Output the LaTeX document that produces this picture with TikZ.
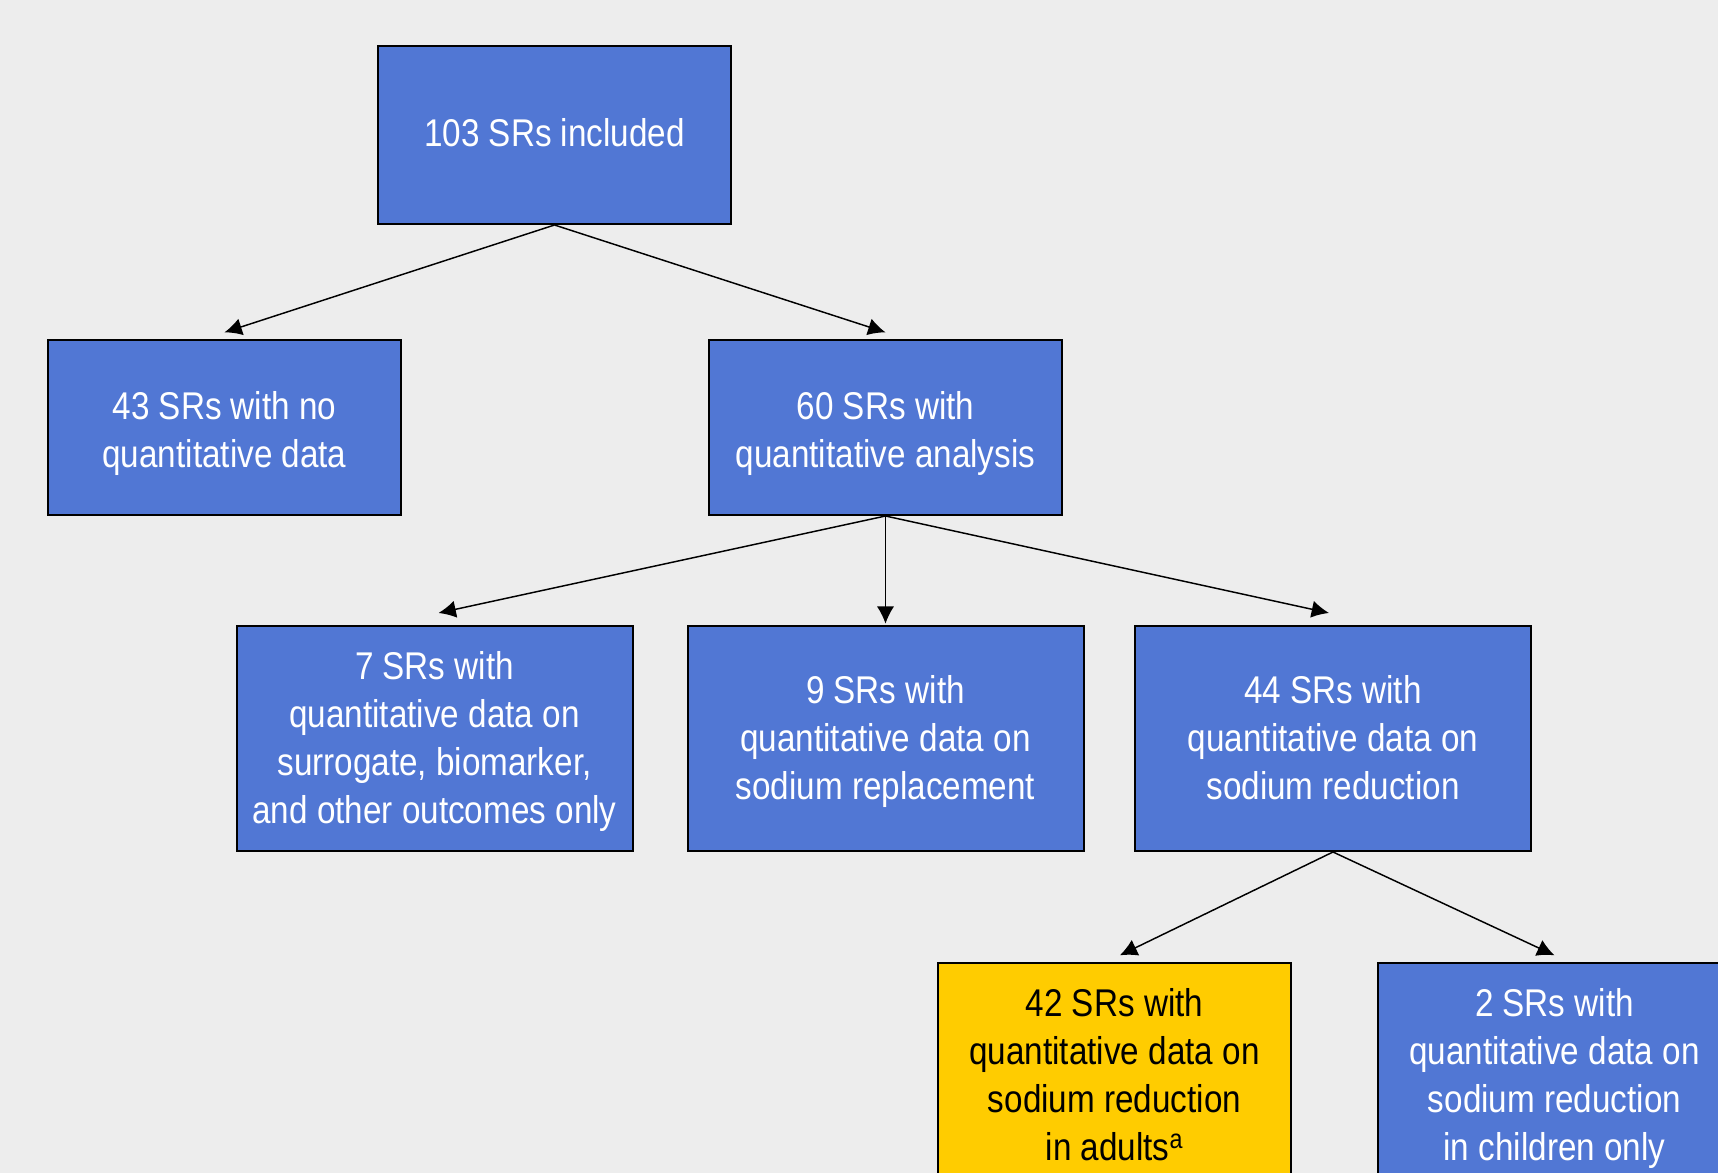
\documentclass[tikz,border=0pt]{standalone}
\usepackage{fontspec}
\setmainfont[FakeStretch=0.86]{Liberation Sans}
\usepackage{tikz}
\usetikzlibrary{arrows.meta}
\definecolor{bgcol}{HTML}{EDEDED}
\definecolor{boxblue}{HTML}{5177D4}
\definecolor{boxyellow}{HTML}{FFCC00}
% lines of a box, lowered a little inside it
\newcommand{\srtext}[2][2.5pt]{\raisebox{-#1}[\height][\depth]{\begin{tabular}{@{}c@{}}#2\end{tabular}}}
\tikzset{
	>={Latex[length=13pt,width=13pt]},   % filled arrow tips
	srbox/.style={draw=black, line width=1.5pt, fill=boxblue, text=white,
		inner sep=0pt, font=\fontsize{29}{36}\selectfont},
	keybox/.style={srbox, fill=boxyellow, text=black},
	arr/.style={->, line width=1.1pt}
}

\begin{document}
\begin{tikzpicture}[x=0.75pt,y=0.75pt]
		% page and background
		\clip (0,0) rectangle (1718,-1173);
		\fill[bgcol] (0,0) rectangle (1718,-1173);
		
		% first level
		\node[srbox, minimum width=353*0.75pt, minimum height=178*0.75pt] (all) at (554.5,-135)
		{\srtext[1.5pt]{103 SRs included}};
		
		% second level
		\node[srbox, minimum width=353*0.75pt, minimum height=175*0.75pt] (noquant) at (224.5,-427.5)
		{\srtext[4.5pt]{43 SRs with no\\quantitative data}};
		\node[srbox, minimum width=353*0.75pt, minimum height=175*0.75pt] (quant) at (885.5,-427.5)
		{\srtext[4.5pt]{60 SRs with\\quantitative analysis}};
		
		% third level
		\node[srbox, minimum width=396*0.75pt, minimum height=225*0.75pt] (surr) at (434.5,-738.5)
		{\srtext{7 SRs with\\quantitative data on\\surrogate, biomarker,\\and other outcomes only}};
		\node[srbox, minimum width=396*0.75pt, minimum height=225*0.75pt] (repl) at (885.5,-738.5)
		{\srtext{9 SRs with\\quantitative data on\\sodium replacement}};
		\node[srbox, minimum width=396*0.75pt, minimum height=225*0.75pt] (red) at (1333,-738.5)
		{\srtext{44 SRs with\\quantitative data on\\sodium reduction}};
		
		% fourth level (runs off the page)
		\node[keybox, minimum width=353*0.75pt, minimum height=225*0.75pt] (adults) at (1114.5,-1075.5)
		{\srtext{42 SRs with\\quantitative data on\\sodium reduction\\in adults\textsuperscript{a}}};
		\node[srbox, minimum width=353*0.75pt, minimum height=225*0.75pt] (children) at (1554.5,-1075.5)
		{\srtext{2 SRs with\\quantitative data on\\sodium reduction\\in children only}};
		
		% connectors
		\draw[arr] (all.south) -- ([yshift=5pt]noquant.north);
		\draw[arr] (all.south) -- ([yshift=5pt]quant.north);
		\draw[arr] (quant.south) -- ([xshift=3pt,yshift=9pt]surr.north);
		\draw[arr] (quant.south) -- ([yshift=1pt]repl.north);
		\draw[arr] (quant.south) -- ([xshift=-3pt,yshift=9pt]red.north);
		\draw[arr] (red.south) -- ([xshift=4pt,yshift=5pt]adults.north);
		\draw[arr] (red.south) -- ([yshift=5pt]children.north);
		
	\end{tikzpicture}
\end{document}
